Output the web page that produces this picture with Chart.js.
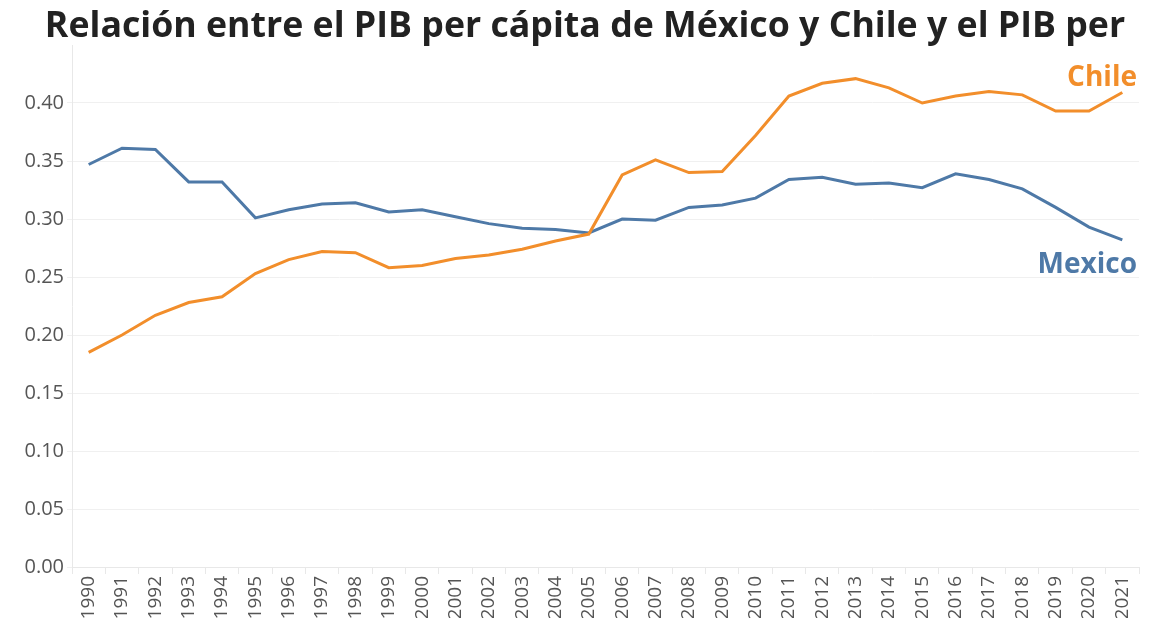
<!DOCTYPE html>
<html>
<head>
<meta charset="utf-8">
<script src="https://cdn.jsdelivr.net/npm/chart.js@4.4.1/dist/chart.umd.min.js"></script>
<style>
  body { margin: 0; background: #fff; }
</style>
</head>
<body>
<canvas id="myChart" width="1164" height="618"></canvas>
<script>
const years = ['1990', '1991', '1992', '1993', '1994', '1995', '1996', '1997', '1998', '1999',
    '2000', '2001', '2002', '2003', '2004', '2005', '2006', '2007', '2008', '2009',
    '2010', '2011', '2012', '2013', '2014', '2015', '2016', '2017', '2018', '2019',
    '2020', '2021'];
const mexico = [0.347, 0.361, 0.360, 0.332, 0.332, 0.301, 0.308, 0.313, 0.314, 0.306,
    0.308, 0.302, 0.296, 0.292, 0.291, 0.288, 0.300, 0.299, 0.310, 0.312,
    0.318, 0.334, 0.336, 0.330, 0.331, 0.327, 0.339, 0.334, 0.326, 0.310,
    0.293, 0.282];
const chile = [0.185, 0.200, 0.217, 0.228, 0.233, 0.253, 0.265, 0.272, 0.271, 0.258,
    0.260, 0.266, 0.269, 0.274, 0.281, 0.287, 0.338, 0.351, 0.340, 0.341,
    0.372, 0.406, 0.417, 0.421, 0.413, 0.400, 0.406, 0.410, 0.407, 0.393,
    0.393, 0.409];
const yTicks = [0, 0.05, 0.10, 0.15, 0.20, 0.25, 0.30, 0.35, 0.40];
const titleText = 'Relación entre el PIB per cápita de México y Chile y el PIB per';

const FONT = '"Open Sans", "Noto Sans", sans-serif';

// title drawn by hand so it can sit centred on the page, not on the padded box
const pageTitle = {
    id: 'pageTitle',
    afterDraw(chart) {
        const ctx = chart.ctx;
        ctx.save();
        ctx.font = 'bold 35.7px ' + FONT;
        ctx.fillStyle = '#222';
        ctx.textAlign = 'center';
        ctx.textBaseline = 'middle';
        ctx.fillText(titleText, 585, 27);
        ctx.restore();
    }
};

// series name written next to the last point of each line
const endLabels = {
    id: 'endLabels',
    afterDatasetsDraw(chart) {
        const ctx = chart.ctx;
        const area = chart.chartArea;
        chart.data.datasets.forEach((ds, i) => {
            const pts = chart.getDatasetMeta(i).data;
            const last = pts[pts.length - 1];
            ctx.save();
            ctx.font = 'bold 28px ' + FONT;
            ctx.fillStyle = ds.borderColor;
            ctx.textAlign = 'right';
            ctx.textBaseline = 'middle';
            ctx.fillText(ds.label, area.right - 2, last.y + ds.labelOffset);
            ctx.restore();
        });
    }
};

new Chart(document.getElementById('myChart').getContext('2d'), {
    type: 'line',
    data: {
        labels: years,
        datasets: [{
            label: 'Chile',
            data: chile,
            borderColor: '#F28E2B',
            borderWidth: 3,
            pointRadius: 0,
            tension: 0,
            labelOffset: -15,
        }, {
            label: 'Mexico',
            data: mexico,
            borderColor: '#4E79A7',
            borderWidth: 3,
            pointRadius: 0,
            tension: 0,
            labelOffset: 25,
        }],
    },
    options: {
        responsive: false,
        animation: false,
        layout: { padding: { top: 45, right: 25, left: 0, bottom: 0 } },
        plugins: {
            legend: { display: false },
            tooltip: { enabled: false },
            title: { display: false },
        },
        scales: {
            x: {
                offset: true,
                grid: {
                    offset: true,
                    drawOnChartArea: false,
                    tickLength: 7,
                    color: '#e8e8e8',
                },
                border: { display: true, color: '#e8e8e8' },
                ticks: {
                    autoSkip: false,
                    minRotation: 90,
                    maxRotation: 90,
                    padding: 2,
                    color: '#555',
                    font: { family: FONT, size: 19 },
                },
                afterFit(scale) { scale.height = 51; },
            },
            y: {
                min: 0,
                max: 0.45,
                afterBuildTicks(scale) {
                    scale.ticks = yTicks.map(v => ({ value: v }));
                },
                afterFit(scale) { scale.width = 72; },
                grid: {
                    color: '#f0f0f0',
                    tickLength: 5,
                },
                border: { display: true, color: '#e8e8e8' },
                ticks: {
                    padding: 3,
                    color: '#555',
                    font: { family: FONT, size: 20 },
                    callback: v => v.toFixed(2),
                },
            },
        },
    },
    plugins: [endLabels, pageTitle],
});
</script>
</body>
</html>
